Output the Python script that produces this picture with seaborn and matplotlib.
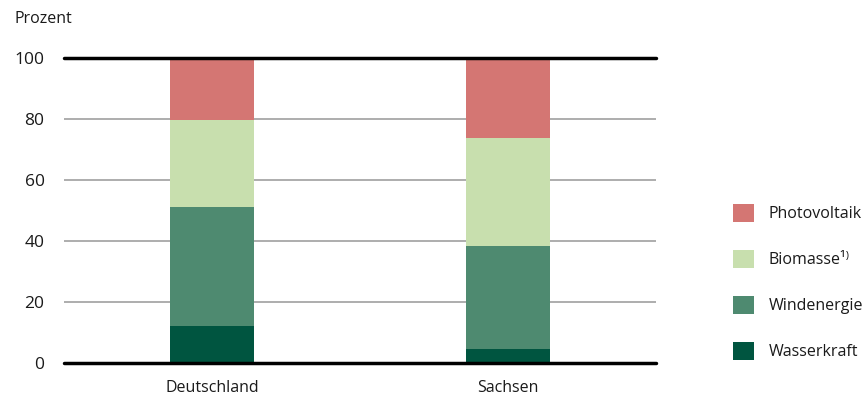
import numpy as np
import pandas as pd
import matplotlib
matplotlib.use("Agg")
import matplotlib.pyplot as plt
import seaborn as sns
from matplotlib.patches import Patch

regions = ["Deutschland", "Sachsen"]
wasserkraft = [12.4, 4.8]
windenergie = [38.6, 33.6]
biomasse = [28.6, 35.4]
photovoltaik = [20.4, 26.2]
series_names = ["Wasserkraft", "Windenergie", "Biomasse", "Photovoltaik"]
legend_labels = ["Wasserkraft", "Windenergie", "Biomasse¹⁾", "Photovoltaik"]
colors = ["#005540", "#4E8A70", "#C8DFAE", "#D47673"]
yticks = [0, 20, 40, 60, 80, 100]

sns.set_theme(style="white")
plt.rcParams["font.family"] = ["Open Sans", "DejaVu Sans"]

values = [wasserkraft, windenergie, biomasse, photovoltaik]
cum = np.cumsum(np.array(values), axis=0)

fig = plt.figure(figsize=(8.66, 3.97), dpi=100)
ax = fig.add_axes([0.0739, 0.0844, 0.6836, 0.7706])

# draw cumulative heights from top layer down so lower layers overlay
for i in range(len(series_names) - 1, -1, -1):
    df = pd.DataFrame({"region": regions, "value": cum[i]})
    sns.barplot(data=df, x="region", y="value", color=colors[i], width=0.284,
                saturation=1, ax=ax, edgecolor="none", linewidth=0, zorder=3)

ax.set_xlim(-0.5, 1.5)
ax.set_ylim(0, 100)
ax.set_yticks(yticks)
ax.set_yticklabels([str(t) for t in yticks])
for t in yticks:
    if t in (0, 100):
        ax.axhline(t, color="black", lw=2.5, zorder=4, clip_on=False)
    else:
        ax.axhline(t, color="#A0A0A0", lw=1.2, zorder=1)
for s in ax.spines.values():
    s.set_visible(False)
ax.tick_params(axis="both", length=0, colors="#1a1a1a")
ax.tick_params(axis="y", pad=14, labelsize=12.5)
ax.tick_params(axis="x", pad=12, labelsize=11.5)
ax.set_xlabel("")
ax.set_ylabel("")

fig.text(14 / 866, 1 - 19 / 397, "Prozent", fontsize=11.5, color="#1a1a1a", va="center", ha="left")

handles = [Patch(facecolor=colors[i], edgecolor="none") for i in range(len(colors) - 1, -1, -1)]
labels = [legend_labels[i] for i in range(len(colors) - 1, -1, -1)]
leg = fig.legend(handles, labels, loc="upper left", bbox_to_anchor=(727 / 866, 1 - 198 / 397),
                 frameon=False, fontsize=11.5, handlelength=1.3, handleheight=1.3,
                 labelspacing=1.75, handletextpad=0.9, borderaxespad=0)
for t in leg.get_texts():
    t.set_color("#1a1a1a")

fig.savefig("out.png", dpi=100)
